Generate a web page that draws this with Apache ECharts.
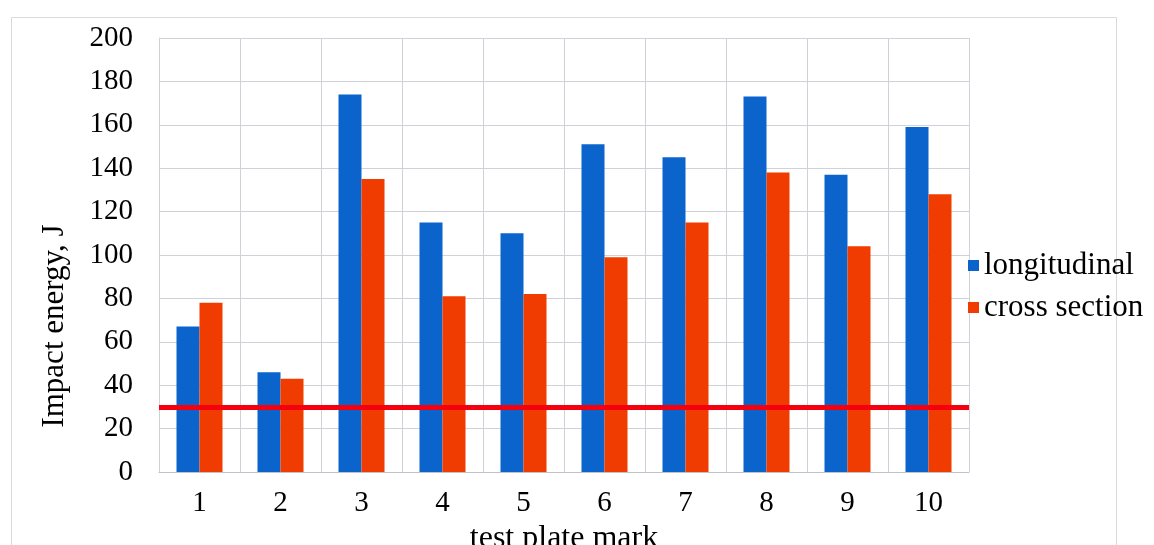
<!DOCTYPE html>
<html>
<head>
<meta charset="utf-8">
<script src="https://cdn.jsdelivr.net/npm/echarts@6/dist/echarts.min.js"></script>
<style>
html,body{margin:0;padding:0;background:#fff;overflow:hidden;}
#main{width:1154px;height:545px;}
</style>
</head>
<body>
<div id="main"></div>
<script>
var categories = ['1','2','3','4','5','6','7','8','9','10'];
var longitudinal = [67, 46, 174, 115, 110, 151, 145, 173, 137, 159];
var crossSection = [78, 43, 135, 81, 82, 99, 115, 138, 104, 128];
var threshold = 30;
var yTicks = {min: 0, max: 200, interval: 20};

var FONT = '"Liberation Serif", "Times New Roman", serif';
var chart = echarts.init(document.getElementById('main'), null, {renderer: 'canvas'});
chart.setOption({
  animation: false,
  backgroundColor: '#ffffff',
  graphic: [
    {type: 'rect', left: 9, top: 15, shape: {width: 1105, height: 560},
     style: {fill: 'none', stroke: '#dadada', lineWidth: 1}, silent: true, z: -10},
    {type: 'text', x: 55, y: 326, rotation: Math.PI / 2,
     style: {text: 'Impact energy, J', font: '31px ' + FONT, fill: '#000',
             align: 'center', verticalAlign: 'middle'}}
  ],
  grid: {left: 159, right: 185, top: 38, bottom: 73, containLabel: false, outerBoundsMode: 'none'},
  legend: {
    orient: 'vertical', left: 963, top: 245,
    itemWidth: 11, itemHeight: 11, itemGap: 11, icon: 'rect',
    textStyle: {fontFamily: FONT, fontSize: 31, color: '#000'},
    data: ['longitudinal', 'cross section']
  },
  xAxis: {
    type: 'category', data: categories, boundaryGap: true,
    axisLine: {show: true, lineStyle: {color: '#bfc3cb', width: 1}},
    axisTick: {show: false},
    splitLine: {show: true, lineStyle: {color: '#cfd2d9', width: 1}},
    axisLabel: {fontFamily: FONT, fontSize: 29, color: '#000', margin: 17},
    name: 'test plate mark', nameLocation: 'middle', nameGap: 50,
    nameTextStyle: {fontFamily: FONT, fontSize: 32, color: '#000'}
  },
  yAxis: {
    type: 'value', min: yTicks.min, max: yTicks.max, interval: yTicks.interval,
    axisLine: {show: true, lineStyle: {color: '#cfd2d9', width: 1}},
    axisTick: {show: false},
    splitLine: {show: true, lineStyle: {color: '#cfd2d9', width: 1}},
    axisLabel: {fontFamily: FONT, fontSize: 29, color: '#000', margin: 26}
  },
  series: [
    {name: 'longitudinal', type: 'bar', data: longitudinal, barWidth: 23, barGap: '0%',
     itemStyle: {color: '#0a64cc'},
     markLine: {
       silent: true, symbol: ['none', 'none'], label: {show: false},
       lineStyle: {color: '#f5000f', width: 5, type: 'solid'},
       data: [{yAxis: threshold}], z: 10
     }},
    {name: 'cross section', type: 'bar', data: crossSection, barWidth: 23, barGap: '0%',
     itemStyle: {color: '#f03c00'}}
  ]
});
</script>
</body>
</html>
